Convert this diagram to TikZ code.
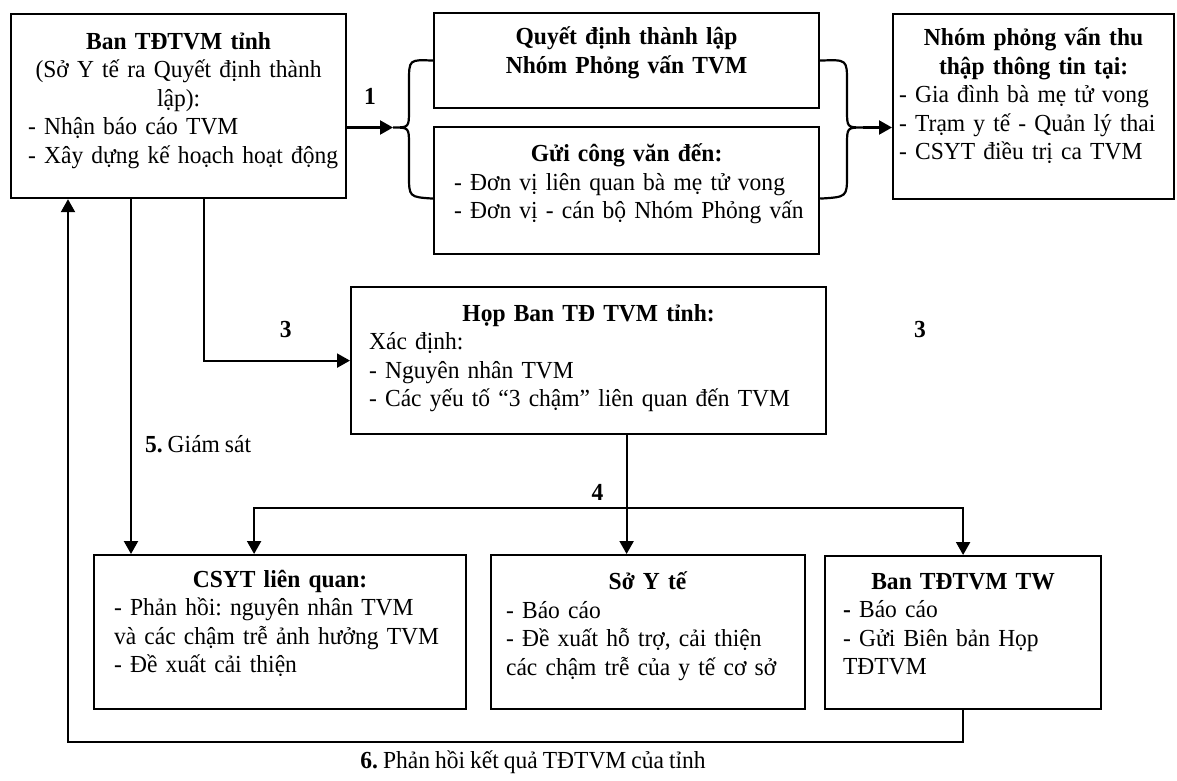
\documentclass[tikz,border=0pt]{standalone}
\usepackage{fontspec}
\setmainfont{Liberation Serif}[FakeStretch=0.96,WordSpace=0.85]
\frenchspacing
\usetikzlibrary{arrows.meta,positioning}

\begin{document}
\begin{tikzpicture}[>={Triangle[length=13pt,width=14pt]},line width=2.2pt,x=1pt,y=-1pt,
    box/.style={draw,anchor=north west,inner sep=0pt},
    txt/.style={anchor=north,align=left,inner sep=0pt,font=\fontsize{24.5}{28.5}\selectfont},
    lbl/.style={inner sep=0pt,font=\fontsize{24.5}{28.5}\selectfont}]
    \useasboundingbox (0,0) rectangle (1177,781);

    % khung
    \node[box,minimum width=335pt,minimum height=184pt] (A) at (10,13) {};
    \node[box,minimum width=385pt,minimum height=95pt] (Q) at (433,12) {};
    \node[box,minimum width=385pt,minimum height=127pt] (G) at (433,126) {};
    \node[box,minimum width=281pt,minimum height=185pt] (N) at (892,13) {};
    \node[box,minimum width=475pt,minimum height=147pt] (H) at (350,286) {};
    \node[box,minimum width=372pt,minimum height=154pt] (C) at (93,554) {};
    \node[box,minimum width=314pt,minimum height=154pt] (S) at (490,554) {};
    \node[box,minimum width=276pt,minimum height=153pt] (T) at (824,555) {};

    % noi dung
    \node[txt,text width=375pt] (tA) at ([yshift=-18pt]A.north) {\centering\textbf{Ban TĐTVM tỉnh}\\(Sở Y tế ra Quyết định thành\\lập):\par
        \raggedright\leftskip=37pt - Nhận báo cáo TVM\\- Xây dựng kế hoạch hoạt động\par};
    \node[txt,text width=425pt] (tQ) at ([yshift=-14pt]Q.north) {\centering\textbf{Quyết định thành lập}\\\textbf{Nhóm Phỏng vấn TVM}\par};
    \node[txt,text width=425pt] (tG) at ([yshift=-17pt]G.north) {\centering\textbf{Gửi công văn đến:}\par
        \raggedright\leftskip=40pt - Đơn vị liên quan bà mẹ tử vong\\- Đơn vị - cán bộ Nhóm Phỏng vấn\par};
    \node[txt,text width=321pt] (tN) at ([yshift=-14pt]N.north) {\centering\textbf{Nhóm phỏng vấn thu}\\\textbf{thập thông tin tại:}\par
        \raggedright\leftskip=26pt - Gia đình bà mẹ tử vong\\- Trạm y tế - Quản lý thai\\- CSYT điều trị ca TVM\par};
    \node[txt,text width=515pt] (tH) at ([yshift=-17pt]H.north) {\centering\textbf{Họp Ban TĐ TVM tỉnh:}\par
        \raggedright\leftskip=38pt Xác định:\\- Nguyên nhân TVM\\- Các yếu tố “3 chậm” liên quan đến TVM\par};
    \node[txt,text width=412pt] (tC) at ([yshift=-15pt]C.north) {\centering\textbf{CSYT liên quan:}\par
        \raggedright\leftskip=40pt - Phản hồi: nguyên nhân TVM\\và các chậm trễ ảnh hưởng TVM\\- Đề xuất cải thiện\par};
    \node[txt,text width=354pt] (tS) at ([yshift=-17pt]S.north) {\centering\textbf{Sở Y tế}\par
        \raggedright\leftskip=35pt - Báo cáo\\- Đề xuất hỗ trợ, cải thiện\\các chậm trễ của y tế cơ sở\par};
    \node[txt,text width=316pt] (tT) at ([yshift=-17pt]T.north) {\centering\textbf{Ban TĐTVM TW}\par
        \raggedright\leftskip=38pt \textbf{-} Báo cáo\\- Gửi Biên bản Họp\\TĐTVM\par};

    % ngoac nhon
    \coordinate (lb) at (393,127.5);
    \coordinate (rb) at (863,127.5);
    \draw (Q.west) .. controls (409,59.5) .. (409,82) -- (409,110) .. controls (409,127.5) .. (lb)
        .. controls (409,127.5) .. (409,145) -- (409,175) .. controls (409,197) .. ([yshift=-8pt]G.west);
    \draw (Q.east) .. controls (847,59.5) .. (847,82) -- (847,110) .. controls (847,127.5) .. (rb)
        .. controls (847,127.5) .. (847,145) -- (847,175) .. controls (847,197) .. ([yshift=-8pt]G.east);

    % mui ten
    \draw[->] (A.east |- lb) -- (lb) node[midway,above=22pt,lbl] {\textbf{1}};
    \draw[->] (rb) -- (N.west |- rb);

    \coordinate (a3) at ([xshift=194pt]A.south west);
    \draw[->] (a3) |- (H.west) node[pos=0.78,above=22pt,lbl] {\textbf{3}};

    \coordinate (a5) at ([xshift=121pt]A.south west);
    \draw[->] (a5) -- (a5 |- C.north) node[pos=0.69,right=13pt,lbl] {\textbf{5.} Giám sát};

    \coordinate (h4) at ([xshift=38pt]H.south);
    \coordinate (j4) at (h4 |- 0,508);
    \draw[->] (h4) -- (h4 |- S.north);
    \draw[->] (j4) -| ([xshift=-26pt]C.north);
    \draw[->] (j4) -| (T.north);
    \node[lbl,above left=6pt and 22pt] (l4) at (j4) {\textbf{4}};

    \coordinate (fb) at (68,742);
    \draw[->] (T.south) |- (fb) -- (fb |- A.south);
    \node[lbl] (l6) at (533,762) {\textbf{6.} Phản hồi kết quả TĐTVM của tỉnh};

    \node[lbl] (l3) at (920,330) {\textbf{3}};
\end{tikzpicture}
\end{document}
